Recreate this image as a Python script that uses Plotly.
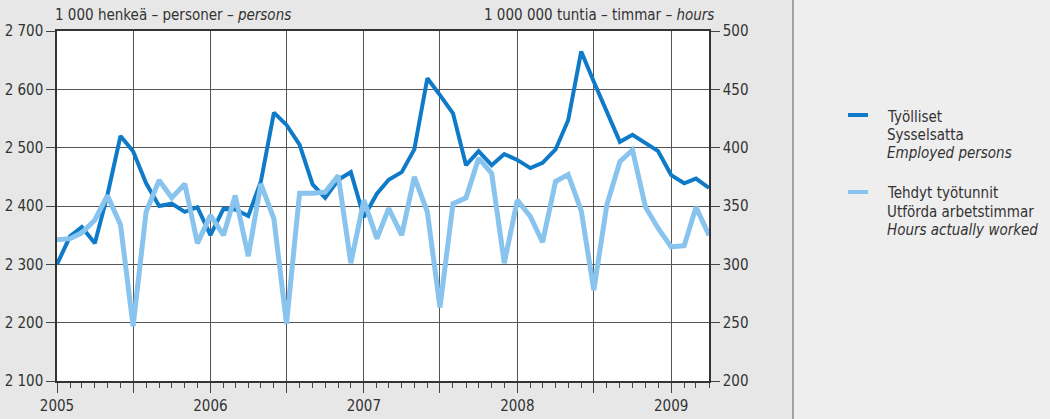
import pandas as pd
import plotly.graph_objects as go

# Months: Jan 2005 .. Apr 2009
months = pd.date_range("2005-01-01", periods=52, freq="MS")

employed = [2300, 2348, 2364, 2336, 2419, 2520, 2494, 2439, 2400, 2404, 2390, 2398,
            2350, 2395, 2394, 2383, 2442, 2560, 2539, 2505, 2437, 2414, 2445, 2458,
            2381, 2421, 2445, 2458, 2497, 2619, 2590, 2559, 2470, 2494, 2470, 2489,
            2479, 2465, 2474, 2497, 2547, 2665, 2613, 2562, 2510, 2522, 2507, 2494,
            2453, 2439, 2447, 2431]

hours = [321, 322, 327, 338, 359, 334, 247, 345, 372, 357, 369, 318,
         342, 325, 359, 307, 369, 339, 249, 361, 361, 362, 376, 301,
         355, 322, 348, 325, 375, 345, 263, 352, 357, 391, 378, 301,
         355, 341, 319, 371, 377, 346, 278, 351, 388, 398, 349, 331,
         315, 316, 349, 325]

left_ticks = [2100, 2200, 2300, 2400, 2500, 2600, 2700]
left_ticktext = ["2 100", "2 200", "2 300", "2 400", "2 500", "2 600", "2 700"]
right_ticks = [200, 250, 300, 350, 400, 450, 500]
x_ticks = ["2005-01-01", "2005-07-01", "2006-01-01", "2006-07-01", "2007-01-01",
           "2007-07-01", "2008-01-01", "2008-07-01", "2009-01-01"]
x_ticktext = ["2005", "", "2006", "", "2007", "", "2008", "", "2009"]

legend_employed = ["Työlliset", "Sysselsatta", "<i>Employed persons</i>"]
legend_hours = ["Tehdyt työtunnit", "Utförda arbetstimmar", "<i>Hours actually worked</i>"]

DARK = "#0f7bc8"
LIGHT = "#88c4ee"
TXT = "#333333"
BG = "#e7e7e7"
FONT = "Liberation Sans Narrow, DejaVu Sans Condensed, Arial Narrow, sans-serif"
FS = 15

W, H = 1050, 419
L, R, T, B = 57, 341, 31, 38
PW = W - L - R
PH = H - T - B

def px(xp):
    return (xp - L) / PW

def py(yp):
    return (H - B - yp) / PH

fig = go.Figure()
fig.add_trace(go.Scatter(x=months, y=hours, yaxis="y2", mode="lines",
                         line=dict(color=LIGHT, width=5), showlegend=False))
fig.add_trace(go.Scatter(x=months, y=employed, yaxis="y", mode="lines",
                         line=dict(color=DARK, width=4), showlegend=False))

fig.update_layout(
    width=W, height=H,
    margin=dict(l=L, r=R, t=T, b=B, autoexpand=False),
    paper_bgcolor=BG,
    plot_bgcolor="#ffffff",
    font=dict(family=FONT, size=FS, color=TXT),
    showlegend=False,
    xaxis=dict(
        type="date", range=["2005-01-01", "2009-04-01"],
        tickmode="array", tickvals=x_ticks, ticktext=x_ticktext,
        ticks="outside", ticklen=10, tickcolor="#444", tickwidth=1,
        showgrid=True, gridcolor="#555", gridwidth=1,
        showline=True, linecolor="#333", linewidth=1.5, mirror=True,
        minor=dict(dtick="M1", tick0="2005-01-01", ticks="outside", ticklen=5,
                   tickcolor="#444", showgrid=False),
        tickfont=dict(size=FS, color=TXT),
    ),
    yaxis=dict(
        range=[2100, 2700], tickmode="array", tickvals=left_ticks, ticktext=left_ticktext,
        ticks="outside", ticklen=9, tickcolor="#444",
        showgrid=True, gridcolor="#555", gridwidth=1, zeroline=False,
        showline=True, linecolor="#333", linewidth=1.5,
        tickfont=dict(size=FS, color=TXT),
    ),
    yaxis2=dict(
        range=[200, 500], tickmode="array", tickvals=right_ticks,
        overlaying="y", side="right",
        ticks="outside", ticklen=9, tickcolor="#444",
        showgrid=False, zeroline=False,
        showline=True, linecolor="#333", linewidth=1.5,
        tickfont=dict(size=FS, color=TXT),
    ),
)

shapes = [
    dict(type="rect", xref="paper", yref="paper", x0=px(793), x1=px(1052),
         y0=py(421), y1=py(-2), fillcolor="#eeeeee", line=dict(width=0), layer="below"),
    dict(type="line", xref="paper", yref="paper", x0=px(793), x1=px(793),
         y0=py(419), y1=py(0), line=dict(color="#8a8a8a", width=1.5)),
    dict(type="line", xref="paper", yref="paper", x0=px(848), x1=px(868),
         y0=py(115), y1=py(115), line=dict(color=DARK, width=4)),
    dict(type="line", xref="paper", yref="paper", x0=px(848), x1=px(868),
         y0=py(192), y1=py(192), line=dict(color=LIGHT, width=4)),
]
fig.update_layout(shapes=shapes)

ann = [
    dict(text="1 000 henkeä – personer – <i>persons</i>", x=px(53), y=py(15),
         xanchor="left", yanchor="middle"),
    dict(text="1 000 000 tuntia – timmar – <i>hours</i>", x=px(716), y=py(15),
         xanchor="right", yanchor="middle"),
]
for i, t in enumerate(legend_employed):
    ann.append(dict(text=t, x=px(885), y=py(117 + 18 * i), xanchor="left", yanchor="middle"))
for i, t in enumerate(legend_hours):
    ann.append(dict(text=t, x=px(885), y=py(193 + 18.5 * i), xanchor="left", yanchor="middle"))
for a in ann:
    a.update(xref="paper", yref="paper", showarrow=False,
             font=dict(family=FONT, size=FS, color=TXT))
fig.update_layout(annotations=ann)

fig.write_html(
    "out.html",
    config={"displayModeBar": False},
    post_script="document.body.style.margin='0';document.body.style.background='%s';" % BG,
)
